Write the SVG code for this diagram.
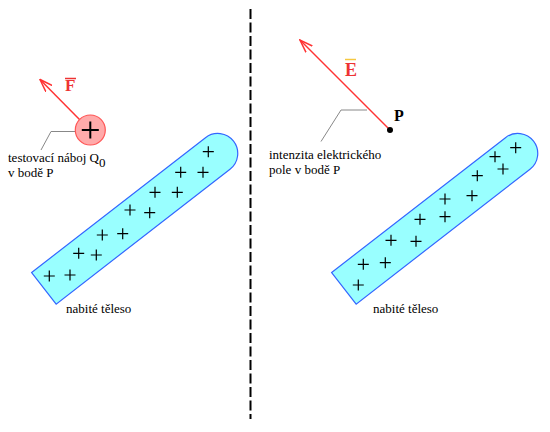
<svg xmlns="http://www.w3.org/2000/svg" xmlns:xlink="http://www.w3.org/1999/xlink" width="550" height="432" viewBox="0 0 550 432">
<style>
.body{fill:#99FFFF;stroke:#3366FF;stroke-width:1.2}
.plus{stroke:#000;stroke-width:1.2;fill:none}
.txt{font-family:"Liberation Serif","Times New Roman",serif;font-size:13px;fill:#000}
.vec{font-family:"Liberation Serif","Times New Roman",serif;font-weight:bold;fill:#EE3333}
.arrow{stroke:#FF3333;stroke-width:1.5;fill:none}
.leader{stroke:#888;stroke-width:1;fill:none}
</style>
<defs>
<path id="bodyshape" d="M0,-20 L220,-20 A20,20 0 0 1 220,20 L0,20 Z"/>
<path id="plus" d="M-5.5,0H5.5M0,-5.5V5.5"/>
<marker id="ah" markerUnits="userSpaceOnUse" viewBox="0 0 14 10" refX="13" refY="5" markerWidth="14" markerHeight="10" orient="auto">
<path d="M0,0.5 L13,5 L0,9.5" fill="none" stroke="#FF3333" stroke-width="1.5"/>
</marker>
</defs>
<rect width="550" height="432" fill="#fff"/>

<g id="connectors">
<line x1="250.5" y1="9" x2="250.5" y2="419" stroke="#000" stroke-width="2" stroke-dasharray="10,3.5"/>
<line class="arrow" x1="79.5" y1="119.5" x2="40" y2="79.5" marker-end="url(#ah)"/>
<line class="arrow" x1="390" y1="130" x2="300" y2="40" marker-end="url(#ah)"/>
<polyline class="leader" points="75,131.5 51,131.5 41,150"/>
<polyline class="leader" points="367,110 341,110 321,141.5"/>
</g>

<g id="body-left">
<use xlink:href="#bodyshape" class="body" transform="translate(43.9,288.3) rotate(-37.8)"/>
<g class="plus">
<use xlink:href="#plus" x="49.3" y="276"/>
<use xlink:href="#plus" x="70" y="275"/>
<use xlink:href="#plus" x="78.7" y="253.3"/>
<use xlink:href="#plus" x="96.3" y="255"/>
<use xlink:href="#plus" x="102.3" y="235"/>
<use xlink:href="#plus" x="122.7" y="233.7"/>
<use xlink:href="#plus" x="130" y="210"/>
<use xlink:href="#plus" x="149.7" y="212.7"/>
<use xlink:href="#plus" x="155" y="192.3"/>
<use xlink:href="#plus" x="177.3" y="192.3"/>
<use xlink:href="#plus" x="180.7" y="172.3"/>
<use xlink:href="#plus" x="203" y="172.3"/>
<use xlink:href="#plus" x="208.3" y="151.7"/>
</g>
<text class="txt" x="66" y="313">nabité těleso</text>
</g>

<g id="body-right">
<use xlink:href="#bodyshape" class="body" transform="translate(343.9,288.3) rotate(-37.8)"/>
<g class="plus">
<use xlink:href="#plus" x="358.3" y="285"/>
<use xlink:href="#plus" x="363.3" y="264.3"/>
<use xlink:href="#plus" x="385.3" y="262.7"/>
<use xlink:href="#plus" x="391" y="240.3"/>
<use xlink:href="#plus" x="416" y="241.3"/>
<use xlink:href="#plus" x="420" y="219.3"/>
<use xlink:href="#plus" x="445" y="216.7"/>
<use xlink:href="#plus" x="445" y="199"/>
<use xlink:href="#plus" x="472" y="195.7"/>
<use xlink:href="#plus" x="477.3" y="175.7"/>
<use xlink:href="#plus" x="503" y="169"/>
<use xlink:href="#plus" x="495" y="156.7"/>
<use xlink:href="#plus" x="515.7" y="147.7"/>
</g>
<text class="txt" x="373" y="313">nabité těleso</text>
</g>

<g id="test-charge">
<circle cx="90.3" cy="130" r="15" fill="#FFAAAA" stroke="#FF5555" stroke-width="1.2"/>
<path d="M81.8,130H98.8M90.3,121.5V138.5" stroke="#000" stroke-width="2" fill="none"/>
<text class="vec" x="65" y="91" font-size="17">F</text>
<line x1="65" y1="78.5" x2="76" y2="78.5" stroke="#EE3333" stroke-width="1.5"/>
<text class="txt" x="8" y="162">testovací náboj Q<tspan font-size="13" dy="5">0</tspan></text>
<text class="txt" x="8" y="177">v bodě P</text>
</g>

<g id="point-P">
<circle cx="390" cy="130" r="3" fill="#000"/>
<text class="vec" x="394" y="121" font-size="16" style="fill:#000">P</text>
<text class="vec" x="345" y="76" font-size="18">E</text>
<line x1="345" y1="59.5" x2="356" y2="59.5" stroke="#F5C842" stroke-width="1.5"/>
<text class="txt" x="269" y="159">intenzita elektrického</text>
<text class="txt" x="269" y="174">pole v bodě P</text>
</g>
</svg>
